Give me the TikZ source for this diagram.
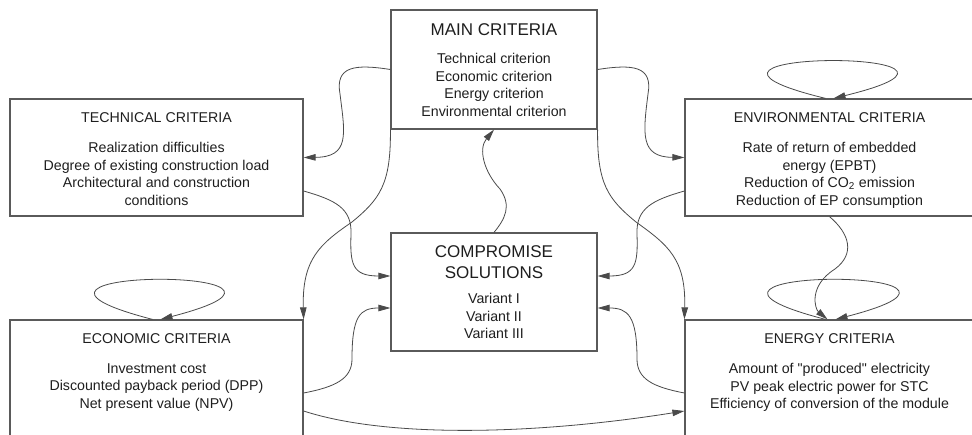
\documentclass[tikz,border=0pt]{standalone}
\usepackage{fontspec}
\setmainfont{Liberation Sans}
\usepackage{tikz}
\usetikzlibrary{arrows.meta, positioning, calc}
\definecolor{BoxGray}{HTML}{5A5A5A}
\definecolor{LineGray}{HTML}{4A4A4A}
\definecolor{InkBlack}{HTML}{1E1E1E}

\begin{document}
\begin{tikzpicture}[x=1pt, y=1pt,
    critbox/.style={draw=BoxGray, line width=1.2pt, inner sep=0pt},
    ttl/.style={inner sep=0pt, text=InkBlack, align=center,
                font=\fontsize{14.2}{17.4}\selectfont},
    bigttl/.style={ttl, font=\fontsize{17}{21}\selectfont},
    itemlist/.style={ttl},
    link/.style={draw=LineGray, line width=0.8pt,
                 -{Triangle[length=12pt, width=6.5pt]}}]
    \useasboundingbox (0,0) rectangle (972,434);
    \clip (0,0) rectangle (972,434);

    % boxes
    \node[critbox, minimum width=206pt, minimum height=119pt] (main) at (494,364.5) {};
    \node[critbox, minimum width=293pt, minimum height=117pt] (tech) at (156.5,276.5) {};
    \node[critbox, minimum width=289pt, minimum height=117pt] (env) at (829.5,276.5) {};
    \node[critbox, minimum width=206pt, minimum height=118pt] (comp) at (494,142) {};
    \node[critbox, minimum width=293pt, minimum height=117pt] (econ) at (156.5,55.5) {};
    \node[critbox, minimum width=289pt, minimum height=117pt] (energy) at (829.5,55.5) {};

    % texts
    \node[bigttl, below=14pt of main.north] (mainT) {MAIN CRITERIA};
    \node[itemlist, below=44pt of main.north] (mainL) {Technical criterion\\Economic criterion\\Energy criterion\\Environmental criterion};

    \node[ttl, below=14pt of tech.north] (techT) {TECHNICAL CRITERIA};
    \node[itemlist, below=44pt of tech.north] (techL) {Realization difficulties\\Degree of existing construction load\\Architectural and construction\\conditions};

    \node[ttl, below=14pt of env.north] (envT) {ENVIRONMENTAL CRITERIA};
    \node[itemlist, below=44pt of env.north] (envL) {Rate of return of embedded\\energy (EPBT)\\Reduction of CO\textsubscript{2} emission\\Reduction of EP consumption};

    \node[bigttl, below=13.5pt of comp.north] (compT) {COMPROMISE\\SOLUTIONS};
    \node[itemlist, below=61pt of comp.north] (compL) {Variant I\\Variant II\\Variant III};

    \node[ttl, below=14pt of econ.north] (econT) {ECONOMIC CRITERIA};
    \node[itemlist, below=44pt of econ.north] (econL) {Investment cost\\Discounted payback period (DPP)\\Net present value (NPV)};

    \node[ttl, below=14pt of energy.north] (energyT) {ENERGY CRITERIA};
    \node[itemlist, below=44pt of energy.north] (energyL) {Amount of \textquotedbl produced\textquotedbl{} electricity\\PV peak electric power for STC\\Efficiency of conversion of the module};

    % connectors
    \draw[link] (main.west) .. controls (355,370) and (335,368) .. (340,340)
                .. controls (345,300) and (350,277) .. (tech.east);
    \draw[link] (main.east) .. controls (633,370) and (653,368) .. (648,340)
                .. controls (643,300) and (640,277) .. (env.west);
    \draw[link] ([yshift=-33.5pt]tech.east) .. controls (335,234) and (352,226) .. (351,200)
                .. controls (350,170) and (352,158) .. ([yshift=16pt]comp.west);
    \draw[link] (main.south west) .. controls (391,250) and (380,235) .. (352,212)
                .. controls (320,190) and (302,175) .. (econ.north east);
    \draw[link] (comp.north) .. controls (505,215) and (512,228) .. (500,245)
                .. controls (484,262) and (478,285) .. (main.south);
    \draw[link] (main.south east) .. controls (597,250) and (608,235) .. (636,212)
                .. controls (668,189) and (686,175) .. (energy.north west);
    \draw[link] ([yshift=-33.5pt]env.west) .. controls (653,234) and (636,226) .. (637,200)
                .. controls (638,170) and (636,158) .. ([yshift=16pt]comp.east);
    \draw[link] ([yshift=-14.5pt]econ.east) .. controls (335,47) and (352,55) .. (352,75)
                .. controls (352,118) and (360,126) .. ([yshift=-16pt]comp.west);
    \draw[link] ([yshift=-14.5pt]energy.west) .. controls (653,47) and (637,55) .. (637,75)
                .. controls (637,118) and (628,126) .. ([yshift=-16pt]comp.east);
    \draw[link] ([yshift=-32.5pt]econ.east) .. controls (390,-5) and (540,0) .. ([yshift=-32.5pt]energy.west);
    \draw[link] (env.south) .. controls (850,200) and (855,180) .. (835,165)
                .. controls (808,148) and (815,125) .. ([xshift=-2pt]energy.north);

    % self loops
    \draw[link] ([xshift=-4pt]env.north) .. controls +(-205,50) and +(205,50) .. ([xshift=4pt]env.north);
    \draw[link] ([xshift=-4pt]econ.north) .. controls +(-205,53) and +(205,53) .. ([xshift=4pt]econ.north);
    \draw[link] ([xshift=-4pt]energy.north) .. controls +(-205,53) and +(205,53) .. ([xshift=6pt]energy.north);
\end{tikzpicture}
\end{document}
